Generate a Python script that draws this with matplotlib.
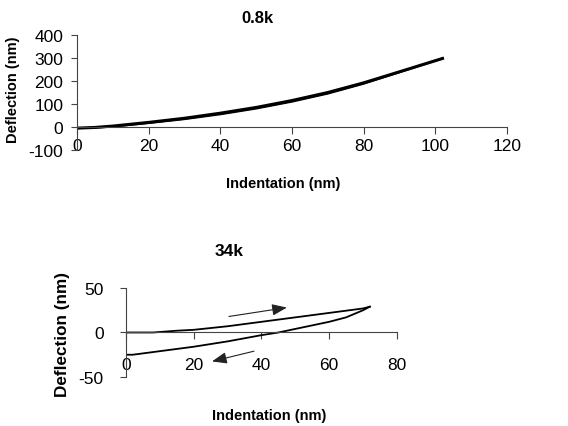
import matplotlib
matplotlib.use("Agg")
import matplotlib.pyplot as plt
import numpy as np

# 0.8k cantilever: loading and unloading curves (nearly overlapping)
soft_x_load = [0, 5, 10, 15, 20, 30, 40, 50, 60, 70, 80, 90, 102]
soft_y_load = [-5, -2, 4, 12, 20, 38, 60, 85, 115, 150, 192, 240, 298]
soft_x_unload = [0, 5, 10, 15, 20, 30, 40, 50, 60, 70, 80, 90, 102]
soft_y_unload = [-5, -3, 2, 9, 17, 34, 55, 80, 110, 145, 188, 238, 298]

# 34k cantilever: approach and retract
stiff_x_app = [0, 8, 15, 20, 30, 40, 50, 60, 70, 72]
stiff_y_app = [0, 0, 2, 3, 7, 12, 17, 22, 27, 29]
stiff_x_ret = [72, 70, 65, 60, 50, 45, 40, 30, 20, 10, 2, 0]
stiff_y_ret = [29, 25, 17, 12, 4, 0, -3, -10, -16, -21, -25, -25]

# direction arrows (start, end)
arrow_up = [(30.4, 18), (47.5, 28)]
arrow_down = [(37.8, -21), (25.4, -32.5)]

plt.rcParams['font.family'] = ['Liberation Sans', 'DejaVu Sans']
plt.rcParams['axes.unicode_minus'] = False

fig = plt.figure(figsize=(5.68, 4.27), dpi=100)


def style_axes(ax, xticks, yticks, xlim, ylim, xpad, ypad):
    ax.set_xlim(*xlim)
    ax.set_ylim(*ylim)
    ax.set_xticks(xticks)
    ax.set_yticks(yticks)
    for s in ["top", "right"]:
        ax.spines[s].set_visible(False)
    ax.spines["bottom"].set_position(("data", 0))
    for s in ["bottom", "left"]:
        ax.spines[s].set_color("#444444")
        ax.spines[s].set_linewidth(0.8)
    ax.tick_params(axis="x", direction="out", length=5, pad=xpad, labelsize=12.5, color="#444444")
    ax.tick_params(axis="y", direction="out", length=4, pad=ypad, labelsize=12.5, color="#444444")
    ax.patch.set_visible(False)


ax1 = fig.add_axes([0.1356, 0.6464, 0.757, 0.2693])
ax1.plot(soft_x_load, soft_y_load, color="black", lw=2.2)
ax1.plot(soft_x_unload, soft_y_unload, color="black", lw=1.4)
style_axes(ax1, range(0, 121, 20), range(-100, 401, 100), (0, 120), (-100, 400), 3, 6)
ax1.set_title("0.8k", fontsize=12, fontweight="bold", pad=9, x=0.419)
ax1.set_xlabel("Indentation (nm)", fontsize=10.5, fontweight="bold")
ax1.xaxis.set_label_coords(0.479, -0.226)
ax1.set_ylabel("Deflection (nm)", fontsize=10.5, fontweight="bold")
ax1.yaxis.set_label_coords(-0.133, 0.53)

ax2 = fig.add_axes([0.2218, 0.1148, 0.477, 0.2084])
ax2.plot(stiff_x_app, stiff_y_app, color="black", lw=1.3)
ax2.plot(stiff_x_ret, stiff_y_ret, color="black", lw=1.3)
for (x0, y0), (x1, y1) in [arrow_up, arrow_down]:
    ax2.annotate("", xy=(x1, y1), xytext=(x0, y0),
                 arrowprops=dict(arrowstyle="-|>,head_length=0.9,head_width=0.35",
                                 color="#222222", lw=0.8, shrinkA=0, shrinkB=0))
style_axes(ax2, range(0, 81, 20), [-50, 0, 50], (0, 80), (-50, 50), 13, 12)
ax2.set_title("34k", fontsize=12.5, fontweight="bold", pad=24, x=0.38)
ax2.set_xlabel("Indentation (nm)", fontsize=10.5, fontweight="bold")
ax2.xaxis.set_label_coords(0.53, -0.348)
ax2.set_ylabel("Deflection (nm)", fontsize=12.3, fontweight="bold")
ax2.yaxis.set_label_coords(-0.207, 0.49)

fig.savefig("out.png", dpi=100)
